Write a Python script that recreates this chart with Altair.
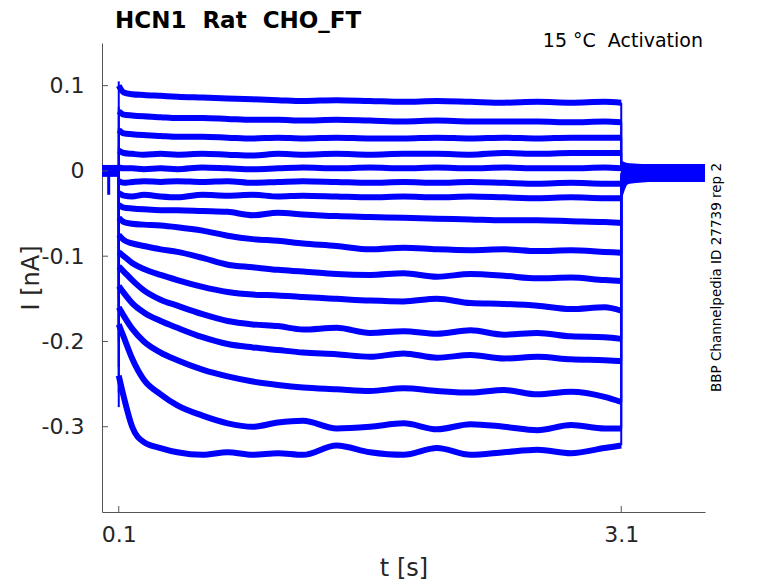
import altair as alt
import pandas as pd

# sample times inside the voltage step (s)
t_step = [0.1, 0.13, 0.18, 0.25, 0.35, 0.45, 0.6, 0.75, 0.9, 1.05, 1.2,
          1.4, 1.6, 1.8, 2.0, 2.2, 2.4, 2.6, 2.8, 3.0, 3.1]

# current of each sweep at those times (nA), top sweep first
sweeps = [
    [0.100, 0.092, 0.090, 0.089, 0.088, 0.087, 0.086, 0.085, 0.084, 0.083, 0.082,
     0.083, 0.082, 0.081, 0.082, 0.081, 0.080, 0.081, 0.080, 0.081, 0.080],
    [0.070, 0.066, 0.065, 0.064, 0.063, 0.062, 0.062, 0.061, 0.060, 0.060, 0.059,
     0.060, 0.059, 0.058, 0.059, 0.058, 0.058, 0.058, 0.057, 0.058, 0.057],
    [0.048, 0.044, 0.043, 0.042, 0.041, 0.040, 0.040, 0.039, 0.038, 0.039, 0.038,
     0.039, 0.038, 0.038, 0.039, 0.038, 0.039, 0.038, 0.039, 0.039, 0.039],
    [0.024, 0.021, 0.020, 0.019, 0.020, 0.019, 0.020, 0.019, 0.018, 0.020, 0.019,
     0.020, 0.019, 0.020, 0.020, 0.019, 0.021, 0.020, 0.021, 0.021, 0.021],
    [0.004, 0.003, 0.003, 0.002, 0.003, 0.002, 0.004, 0.003, 0.002, 0.003, 0.004,
     0.003, 0.004, 0.003, 0.004, 0.003, 0.004, 0.003, 0.003, 0.004, 0.003],
    [-0.012, -0.014, -0.013, -0.012, -0.013, -0.012, -0.013, -0.012, -0.014, -0.013, -0.012,
     -0.013, -0.014, -0.013, -0.014, -0.013, -0.014, -0.015, -0.014, -0.015, -0.015],
    [-0.026, -0.029, -0.030, -0.028, -0.030, -0.031, -0.028, -0.029, -0.028, -0.030, -0.029,
     -0.030, -0.031, -0.030, -0.031, -0.030, -0.031, -0.032, -0.031, -0.032, -0.032],
    [-0.040, -0.043, -0.044, -0.045, -0.046, -0.046, -0.047, -0.048, -0.052, -0.049, -0.051,
     -0.053, -0.054, -0.055, -0.056, -0.057, -0.058, -0.058, -0.059, -0.060, -0.061],
    [-0.055, -0.060, -0.062, -0.063, -0.064, -0.066, -0.070, -0.076, -0.080, -0.082, -0.085,
     -0.088, -0.092, -0.090, -0.092, -0.093, -0.092, -0.094, -0.093, -0.095, -0.096],
    [-0.075, -0.081, -0.085, -0.088, -0.092, -0.095, -0.102, -0.110, -0.113, -0.116, -0.118,
     -0.121, -0.122, -0.120, -0.124, -0.121, -0.123, -0.126, -0.125, -0.128, -0.129],
    [-0.095, -0.100, -0.108, -0.115, -0.122, -0.128, -0.136, -0.142, -0.145, -0.146, -0.148,
     -0.150, -0.152, -0.153, -0.150, -0.155, -0.156, -0.158, -0.162, -0.160, -0.164],
    [-0.112, -0.118, -0.128, -0.140, -0.151, -0.158, -0.168, -0.176, -0.180, -0.182, -0.186,
     -0.184, -0.190, -0.188, -0.191, -0.187, -0.192, -0.190, -0.194, -0.195, -0.197],
    [-0.135, -0.143, -0.155, -0.166, -0.176, -0.184, -0.195, -0.203, -0.207, -0.210, -0.213,
     -0.215, -0.218, -0.214, -0.219, -0.216, -0.220, -0.218, -0.221, -0.222, -0.223],
    [-0.160, -0.170, -0.185, -0.200, -0.213, -0.222, -0.233, -0.241, -0.247, -0.251, -0.254,
     -0.256, -0.258, -0.255, -0.258, -0.260, -0.257, -0.262, -0.259, -0.265, -0.271],
    [-0.180, -0.195, -0.220, -0.245, -0.262, -0.275, -0.287, -0.296, -0.300, -0.295, -0.293,
     -0.302, -0.300, -0.296, -0.303, -0.297, -0.300, -0.304, -0.298, -0.302, -0.302],
    [-0.240, -0.265, -0.300, -0.318, -0.325, -0.330, -0.333, -0.330, -0.333, -0.331, -0.333,
     -0.322, -0.330, -0.333, -0.325, -0.333, -0.330, -0.327, -0.331, -0.325, -0.322],
]

# capacitive transient at step onset, per sweep (nA)
step_on = 0.1
onset_peak = [0.105, 0.075, 0.050, 0.028, 0.006, -0.020, -0.040, -0.060,
              -0.090, -0.120, -0.150, -0.180, -0.200, -0.230, -0.260, -0.277]

# tail currents after the step
step_off = 3.1
tail_t = [3.1, 3.13, 3.2]
tail_start = [0.005, 0.004, 0.003, 0.002, 0.000, -0.002, -0.004, -0.006,
              -0.008, -0.010, -0.013, -0.016, -0.019, -0.022, -0.026, -0.030]
tail_mid = [0.003, 0.002, 0.002, 0.001, 0.000, -0.001, -0.002, -0.003,
            -0.004, -0.005, -0.006, -0.008, -0.009, -0.011, -0.013, -0.015]
tail_end = [0.002, 0.001, 0.001, 0.000, 0.000, -0.001, -0.001, -0.002,
            -0.002, -0.002, -0.003, -0.003, -0.003, -0.004, -0.004, -0.004]

# holding current band before and after the step
pre_t = [0.0, 0.1]
pre_hi = [0.007, 0.007]
pre_lo = [-0.007, -0.007]
post_t = [3.1, 3.15, 3.3, 3.6]
post_hi = [0.012, 0.009, 0.008, 0.008]
post_lo = [-0.022, -0.015, -0.013, -0.013]
artifact_t = [0.04]
artifact_lo = [-0.028]

x_ticks = [0.1, 3.1]
y_ticks = [0.1, 0, -0.1, -0.2, -0.3]

# double spaces kept with a no-break space (svg collapses plain ones)
title_text = "HCN1 \u00a0Rat \u00a0CHO_FT"
cond_text = "15 °C \u00a0Activation"
id_text = "BBP Channelpedia ID 27739 rep 2"

FONT = "DejaVu Sans"
BLUE = "#0000ff"
AX = "#555555"
W, H = 603, 469

# tables
rows = []
for k, s in enumerate(sweeps):
    for i, (t, v) in enumerate(zip(t_step, s)):
        rows.append({"sweep": k, "i": i, "t": t, "I": v})
trace_df = pd.DataFrame(rows)

tail_rows = []
for k in range(len(sweeps)):
    for i, v in enumerate([tail_start[k], tail_mid[k], tail_end[k]]):
        tail_rows.append({"sweep": k, "i": i, "t": tail_t[i], "I": v})
tail_df = pd.DataFrame(tail_rows)

onset_df = pd.DataFrame({"t": [step_on] * len(sweeps), "I": [0.0] * len(sweeps),
                         "I2": onset_peak})
offset_df = pd.DataFrame({"t": [step_off] * len(sweeps), "I": [s[-1] for s in sweeps],
                          "I2": tail_start})
pre_df = pd.DataFrame({"t": pre_t, "I": pre_hi, "I2": pre_lo})
post_df = pd.DataFrame({"t": post_t, "I": post_hi, "I2": post_lo})
art_df = pd.DataFrame({"t": artifact_t, "I": [0.0], "I2": artifact_lo})
xt_df = pd.DataFrame({"t": x_ticks})
yt_df = pd.DataFrame({"I": y_ticks})

x_scale = alt.Scale(domain=[0, 3.6], nice=False, zero=False)
y_scale = alt.Scale(domain=[-0.4, 0.15], nice=False, zero=False)

x_axis = alt.Axis(
    values=x_ticks, format=".1f", ticks=False, tickSize=0, grid=False,
    domainColor=AX, domainWidth=1,
    labelFont=FONT, labelFontSize=22, labelColor="#262626", labelPadding=12,
    title="t [s]", titleFont=FONT, titleFontSize=24, titleFontWeight="normal",
    titleColor="#262626", titleX=W / 2, titleY=63, titleBaseline="alphabetic",
)
y_axis = alt.Axis(
    values=y_ticks, ticks=False, tickSize=0, grid=False,
    labelExpr="datum.value == 0 ? '0' : (datum.value < 0 ? '-' + format(-datum.value, '.1f') : format(datum.value, '.1f'))",
    domainColor=AX, domainWidth=1,
    labelFont=FONT, labelFontSize=22, labelColor="#262626", labelPadding=18,
    title="I [nA]", titleFont=FONT, titleFontSize=24, titleFontWeight="normal",
    titleColor="#262626", titleX=-71, titleY=H / 2, titleAngle=270,
    titleBaseline="middle", titleAlign="center",
)

X = alt.X("t:Q", scale=x_scale, axis=x_axis)
Y = alt.Y("I:Q", scale=y_scale, axis=y_axis)

pre = alt.Chart(pre_df).mark_area(color=BLUE).encode(x=X, y=Y, y2="I2:Q")
post = alt.Chart(post_df).mark_area(color=BLUE, interpolate="monotone").encode(x=X, y=Y, y2="I2:Q")
art = alt.Chart(art_df).mark_rule(color=BLUE, strokeWidth=3).encode(x=X, y=Y, y2="I2:Q")
onset = alt.Chart(onset_df).mark_rule(color=BLUE, strokeWidth=2).encode(x=X, y=Y, y2="I2:Q")
offset = alt.Chart(offset_df).mark_rule(color=BLUE, strokeWidth=2).encode(x=X, y=Y, y2="I2:Q")
tails = alt.Chart(tail_df).mark_line(color=BLUE, strokeWidth=2.5, interpolate="monotone").encode(
    x=X, y=Y, detail="sweep:N", order="i:Q")
traces = alt.Chart(trace_df).mark_line(
    color=BLUE, strokeWidth=6, strokeJoin="round", interpolate="monotone"
).encode(x=X, y=Y, detail="sweep:N", order="i:Q")

yticks = alt.Chart(yt_df).mark_rule(color=AX, strokeWidth=1).encode(
    y=Y, x=alt.value(0), x2=alt.value(6))
xticks = alt.Chart(xt_df).mark_rule(color=AX, strokeWidth=1).encode(
    x=X, y=alt.value(H), y2=alt.value(H - 6))

title = alt.Chart(pd.DataFrame({"label": [title_text]})).mark_text(
    font=FONT, fontSize=23, fontWeight="bold", color="#000000",
    align="left", baseline="alphabetic",
).encode(x=alt.value(13), y=alt.value(-15), text="label:N")

cond = alt.Chart(pd.DataFrame({"label": [cond_text]})).mark_text(
    font=FONT, fontSize=19, color="#000000", align="right", baseline="alphabetic",
).encode(x=alt.value(601), y=alt.value(4), text="label:N")

ident = alt.Chart(pd.DataFrame({"label": [id_text]})).mark_text(
    font=FONT, fontSize=13.5, color="#000000", align="center", baseline="middle", angle=270,
).encode(x=alt.value(615), y=alt.value(H / 2), text="label:N")

chart = alt.layer(
    pre, post, art, onset, offset, tails, traces, yticks, xticks, title, cond, ident
).properties(
    width=W,
    height=H,
    autosize=alt.AutoSizeParams(type="none"),
    padding={"left": 94, "top": 35, "right": 65, "bottom": 70},
    background="#ffffff",
).configure_view(
    strokeWidth=0
)

chart.save("out.html", embed_options={"renderer": "svg", "actions": False})
